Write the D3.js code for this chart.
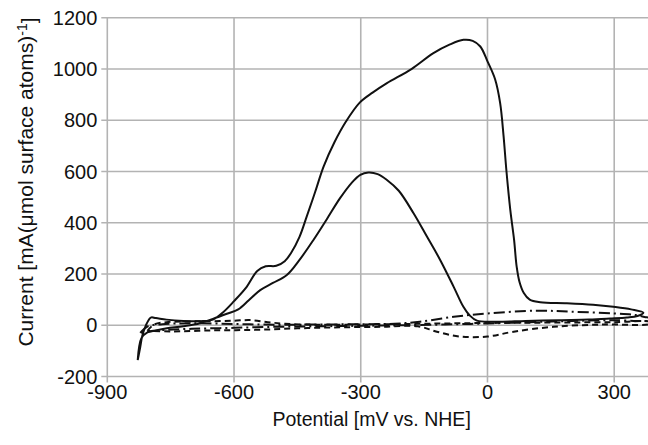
<!DOCTYPE html>
<html>
<head>
<meta charset="utf-8">
<script src="https://cdn.jsdelivr.net/npm/d3@7"></script>
<style>
  body { margin: 0; background: #fff; }
  text { font-family: "Liberation Sans", Arial, sans-serif; fill: #111; }
</style>
</head>
<body>
<svg id="chart" width="648" height="445"></svg>
<script>
// ticks
const xTicks = [-900, -600, -300, 0, 300];
const yTicks = [-200, 0, 200, 400, 600, 800, 1000, 1200];

// main CV (solid) : forward scan then reverse scan, [mV, current]
const cvSolid = [
  [-828, -136], [-822, -85], [-817, -40], [-808, 2], [-797, 30], [-785, 28],
  [-760, 22], [-720, 17], [-680, 16], [-650, 22], [-625, 52], [-600, 94],
  [-570, 150], [-545, 212], [-525, 230], [-500, 232], [-480, 250], [-465, 282],
  [-445, 345], [-428, 424], [-408, 520], [-388, 619], [-362, 715], [-335, 795],
  [-303, 868], [-272, 908], [-238, 945], [-180, 1000], [-128, 1062], [-90, 1095],
  [-57, 1114], [-35, 1110], [-17, 1088], [0, 1030], [18, 960], [30, 867],
  [38, 740], [45, 600], [54, 450], [63, 333], [69, 230], [76, 168], [86, 126],
  [100, 100], [125, 90], [188, 86], [250, 80], [298, 72], [340, 62], [369, 49],
  [355, 36], [330, 30], [290, 26], [240, 22], [170, 20], [90, 17], [20, 14],
  [-25, 18], [-42, 38], [-57, 72], [-80, 150], [-112, 255], [-143, 345],
  [-175, 437], [-210, 525], [-238, 567], [-260, 590], [-282, 596], [-301, 587],
  [-322, 555], [-349, 496], [-380, 415], [-412, 333], [-445, 255], [-475, 196],
  [-508, 165], [-538, 137], [-565, 98], [-590, 62], [-617, 45], [-650, 25],
  [-680, 8], [-720, -4], [-759, -12], [-785, -20], [-805, -28], [-819, -50],
  [-828, -136]
];

// blank CV 1 (short dash)
const cvDash = [
  [-805, -22], [-790, 2], [-760, 12], [-700, 15], [-650, 16], [-600, 18],
  [-560, 20], [-520, 12], [-480, 6], [-400, 2], [-300, 3], [-200, 5],
  [-100, 7], [0, 9], [100, 10], [200, 11], [300, 12], [385, 13],
  [385, 6], [275, 3], [156, -6], [62, -25], [0, -44], [-65, -44],
  [-120, -25], [-165, -4], [-250, -6], [-350, -8], [-450, -12], [-550, -18],
  [-650, -20], [-750, -24], [-805, -22]
];

// blank CV 2 (dash-dot)
const cvDashDot = [
  [-822, -30], [-805, -5], [-770, 4], [-700, 8], [-600, 5], [-500, 2],
  [-400, 3], [-300, 4], [-220, 6], [-160, 14], [-80, 33], [0, 46],
  [117, 57], [196, 53], [298, 46], [350, 40], [372, 32], [385, 28],
  [385, 20], [300, 20], [200, 17], [100, 12], [0, 7], [-100, 3],
  [-200, 0], [-300, -2], [-400, -4], [-500, -6], [-600, -10], [-700, -14],
  [-780, -20], [-822, -30]
];

const svg = d3.select('#chart');
const plotLeft = 107.3, plotRight = 648, plotTop = 17.8, plotBottom = 376.5;

const x = d3.scaleLinear().domain([-900, 380]).range([plotLeft, plotRight]);
const y = d3.scaleLinear().domain([-200, 1200]).range([plotBottom, plotTop]);

// clip for the plot area
svg.append('clipPath').attr('id', 'plotClip')
  .append('rect')
  .attr('x', plotLeft).attr('y', plotTop - 2)
  .attr('width', plotRight - plotLeft).attr('height', plotBottom - plotTop + 4);

const gridColor = '#b3b3b3';

// gridlines
svg.append('g')
  .selectAll('line')
  .data(yTicks)
  .enter().append('line')
  .attr('x1', plotLeft - 6).attr('x2', plotRight)
  .attr('y1', d => y(d)).attr('y2', d => y(d))
  .attr('stroke', gridColor).attr('stroke-width', 1.6);

svg.append('g')
  .selectAll('line')
  .data(xTicks)
  .enter().append('line')
  .attr('x1', d => x(d)).attr('x2', d => x(d))
  .attr('y1', plotTop).attr('y2', plotBottom + 6)
  .attr('stroke', gridColor).attr('stroke-width', 1.6);

// tick labels
svg.append('g')
  .selectAll('text')
  .data(yTicks)
  .enter().append('text')
  .attr('x', plotLeft - 10)
  .attr('y', d => y(d))
  .attr('dy', '0.36em')
  .attr('text-anchor', 'end')
  .style('font-size', '20px')
  .text(d => d);

svg.append('g')
  .selectAll('text')
  .data(xTicks)
  .enter().append('text')
  .attr('x', d => x(d))
  .attr('y', plotBottom + 22)
  .attr('text-anchor', 'middle')
  .style('font-size', '20px')
  .text(d => d);

// axis titles
svg.append('text')
  .attr('x', (plotLeft + plotRight) / 2 - 6)
  .attr('y', 426)
  .attr('text-anchor', 'middle')
  .style('font-size', '19.5px')
  .text('Potential [mV vs. NHE]');

const yTitle = svg.append('text')
  .attr('transform', 'translate(33, 182) rotate(-90)')
  .attr('text-anchor', 'middle')
  .style('font-size', '21px');
yTitle.append('tspan').text('Current [mA(\u03bcmol surface atoms)');
yTitle.append('tspan').attr('dy', '-0.45em').style('font-size', '14px').text('-1');
yTitle.append('tspan').attr('dy', '0.45em').text(']');

// curves
const line = d3.line()
  .x(d => x(d[0]))
  .y(d => y(d[1]))
  .curve(d3.curveCatmullRom.alpha(0.5));

const curves = [
  { data: cvDashDot, dash: '11,4,2,4' },
  { data: cvDash, dash: '6,4' },
  { data: cvSolid, dash: null }
];

svg.append('g')
  .attr('clip-path', 'url(#plotClip)')
  .selectAll('path')
  .data(curves)
  .enter().append('path')
  .attr('d', d => line(d.data))
  .attr('fill', 'none')
  .attr('stroke', '#111')
  .attr('stroke-width', 2)
  .attr('stroke-dasharray', d => d.dash);
</script>
</body>
</html>
